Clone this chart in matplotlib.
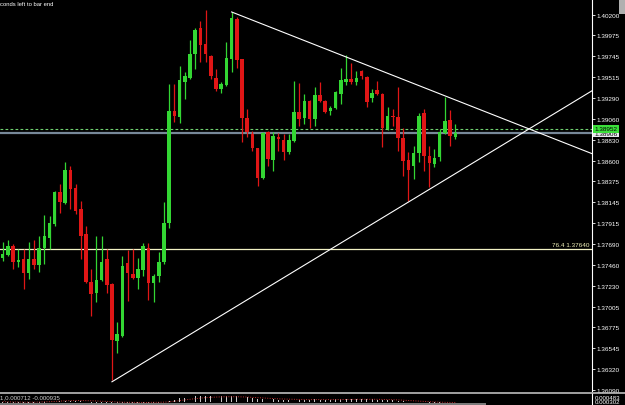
import matplotlib
matplotlib.use("Agg")
import matplotlib.pyplot as plt
import numpy as np
from matplotlib.lines import Line2D
from matplotlib.patches import Rectangle
from matplotlib.transforms import blended_transform_factory

plt.rcParams["font.family"] = ["Liberation Sans", "DejaVu Sans"]

# candle OHLC, oldest first
opens = [
    1.37536, 1.37569, 1.37668, 1.37492, 1.37525, 1.37372, 1.37525, 1.37460, 1.37646, 1.37756,
    1.37909, 1.38260, 1.38139, 1.38501, 1.38304, 1.38073, 1.37799, 1.37273, 1.37153, 1.37295,
    1.37525, 1.37251, 1.36627, 1.36682, 1.37482, 1.37361, 1.37317, 1.37405, 1.37646, 1.37262,
    1.37339, 1.37492, 1.37920, 1.39148, 1.39082, 1.39465, 1.39509, 1.39772, 1.40057, 1.39882,
    1.39750, 1.39509, 1.39389, 1.39432, 1.39717, 1.40156, 1.39717, 1.39071, 1.38895, 1.38742,
    1.38413, 1.38917, 1.38610, 1.38863, 1.38830, 1.38698, 1.38819, 1.39137, 1.39071, 1.39257,
    1.39060, 1.39323, 1.39257, 1.39148, 1.39180, 1.39334, 1.39465, 1.39498, 1.39465, 1.39586,
    1.39520, 1.39290, 1.39378, 1.39334, 1.38950, 1.39093, 1.39082, 1.38852, 1.38610, 1.38545,
    1.38687, 1.39126, 1.38654, 1.38567, 1.38643, 1.38906, 1.39049, 1.38863,
]
highs = [
    1.37712, 1.37734, 1.37690, 1.37635, 1.37635, 1.37712, 1.37734, 1.37778, 1.38008, 1.37997,
    1.38271, 1.38347, 1.38588, 1.38545, 1.38347, 1.38161, 1.37887, 1.37416, 1.37778, 1.37778,
    1.37635, 1.37262, 1.36835, 1.37558, 1.37624, 1.37635, 1.37536, 1.37701, 1.37701, 1.37361,
    1.37602, 1.38150, 1.39443, 1.39443, 1.39641, 1.39575, 1.39926, 1.40057, 1.40134, 1.40254,
    1.39761, 1.39608, 1.39465, 1.39904, 1.40233, 1.40178, 1.39717, 1.39169, 1.38928, 1.38742,
    1.38917, 1.38928, 1.38917, 1.38906, 1.38895, 1.38895, 1.39476, 1.39454, 1.39334, 1.39268,
    1.39411, 1.39465, 1.39268, 1.39202, 1.39367, 1.39619, 1.39761, 1.39674, 1.39586, 1.39597,
    1.39531, 1.39389, 1.39476, 1.39345, 1.39191, 1.39169, 1.39411, 1.38961, 1.38698, 1.38764,
    1.39126, 1.39169, 1.38764, 1.38731, 1.38950, 1.39301, 1.39158, 1.39005,
]
lows = [
    1.37504, 1.37558, 1.37416, 1.37438, 1.37197, 1.37306, 1.37416, 1.37383, 1.37471, 1.37635,
    1.37887, 1.38030, 1.38128, 1.38073, 1.38019, 1.37525, 1.37262, 1.36901, 1.37054, 1.37284,
    1.37153, 1.36199, 1.36495, 1.36671, 1.37065, 1.37306, 1.37197, 1.37339, 1.37076, 1.37054,
    1.37273, 1.37471, 1.37865, 1.39027, 1.39016, 1.39279, 1.39498, 1.39608, 1.39685, 1.39685,
    1.39498, 1.39367, 1.39345, 1.39422, 1.39575, 1.39619, 1.38808, 1.38863, 1.38709, 1.38326,
    1.38402, 1.38545, 1.38490, 1.38709, 1.38610, 1.38676, 1.38808, 1.38983, 1.39005, 1.38961,
    1.38983, 1.39246, 1.39126, 1.39104, 1.39169, 1.39224, 1.39432, 1.39443, 1.39432, 1.39498,
    1.39191, 1.39246, 1.39323, 1.38753, 1.38939, 1.38983, 1.38709, 1.38435, 1.38161, 1.38402,
    1.38589, 1.38490, 1.38315, 1.38534, 1.38600, 1.38895, 1.38764, 1.38841,
]
closes = [
    1.37580, 1.37668, 1.37492, 1.37514, 1.37372, 1.37525, 1.37460, 1.37646, 1.37778, 1.37920,
    1.38260, 1.38150, 1.38501, 1.38293, 1.38052, 1.37778, 1.37273, 1.37142, 1.37295, 1.37492,
    1.37240, 1.36638, 1.36703, 1.37449, 1.37372, 1.37317, 1.37416, 1.37668, 1.37262, 1.37339,
    1.37492, 1.37920, 1.39148, 1.39093, 1.39487, 1.39531, 1.39772, 1.40035, 1.39871, 1.39772,
    1.39531, 1.39389, 1.39443, 1.39728, 1.40167, 1.39706, 1.39071, 1.38917, 1.38742, 1.38413,
    1.38906, 1.38621, 1.38873, 1.38841, 1.38698, 1.38830, 1.39137, 1.39060, 1.39257, 1.39060,
    1.39323, 1.39257, 1.39137, 1.39180, 1.39356, 1.39487, 1.39498, 1.39465, 1.39509, 1.39531,
    1.39246, 1.39345, 1.39334, 1.38961, 1.39093, 1.39082, 1.38852, 1.38600, 1.38501, 1.38687,
    1.39093, 1.38654, 1.38578, 1.38632, 1.38917, 1.39038, 1.38874, 1.38906,
]

# MACD sub window (histogram + signal), only its top strip is visible
macd_hist = [
    -0.00020, -0.00018, -0.00017, -0.00015, -0.00016, -0.00014, -0.00013, -0.00010, -0.00006, -0.00002,
    0.00003, 0.00005, 0.00009, 0.00010, 0.00008, 0.00004, -0.00002, -0.00008, -0.00010, -0.00010,
    -0.00011, -0.00018, -0.00022, -0.00018, -0.00017, -0.00016, -0.00014, -0.00011, -0.00012, -0.00011,
    -0.00009, -0.00004, 0.00008, 0.00016, 0.00024, 0.00030, 0.00035, 0.00040, 0.00042, 0.00042,
    0.00041, 0.00039, 0.00037, 0.00038, 0.00041, 0.00039, 0.00035, 0.00031, 0.00027, 0.00023,
    0.00022, 0.00020, 0.00018, 0.00016, 0.00014, 0.00013, 0.00015, 0.00015, 0.00016, 0.00016,
    0.00017, 0.00016, 0.00016, 0.00016, 0.00017, 0.00018, 0.00019, 0.00019, 0.00019, 0.00019,
    0.00018, 0.00017, 0.00016, 0.00013, 0.00012, 0.00011, 0.00008, 0.00005, 0.00001, -0.00001,
    0.00000, -0.00003, -0.00004, -0.00005, -0.00004, -0.00002, -0.00002, -0.00001,
]
macd_signal = [
    0.00002, 0.00001, 0.00000, 0.00000, -0.00001, -0.00001, -0.00001, 0.00000, 0.00001, 0.00002,
    0.00004, 0.00006, 0.00008, 0.00009, 0.00010, 0.00010, 0.00009, 0.00008, 0.00007, 0.00005,
    0.00004, 0.00002, 0.00000, -0.00001, -0.00002, -0.00002, -0.00003, -0.00003, -0.00003, -0.00002,
    -0.00002, -0.00001, 0.00001, 0.00005, 0.00009, 0.00014, 0.00018, 0.00022, 0.00026, 0.00029,
    0.00031, 0.00033, 0.00034, 0.00035, 0.00035, 0.00035, 0.00034, 0.00033, 0.00031, 0.00029,
    0.00027, 0.00025, 0.00023, 0.00021, 0.00020, 0.00019, 0.00018, 0.00017, 0.00016, 0.00016,
    0.00016, 0.00016, 0.00016, 0.00016, 0.00016, 0.00016, 0.00017, 0.00017, 0.00018, 0.00018,
    0.00018, 0.00018, 0.00018, 0.00017, 0.00016, 0.00015, 0.00014, 0.00012, 0.00010, 0.00008,
    0.00006, 0.00004, 0.00002, 0.00000, -0.00001, -0.00002, -0.00003, -0.00003,
]

# price scale labels on the right
ytick_vals = [1.40200, 1.39975, 1.39745, 1.39515, 1.39290, 1.39060, 1.38830, 1.38600,
              1.38375, 1.38145, 1.37915, 1.37690, 1.37460, 1.37230, 1.37005, 1.36775,
              1.36545, 1.36320, 1.36090]

# trend lines (bar index, price) -> drawn as rays to the right edge
upper_line = [(44, 1.40233), (85, 1.39314)]
lower_line = [(21, 1.36180), (78, 1.38150)]
fib_level = 1.37640
fib_label = "76.4 1.37640"
ask_price = 1.38952
bid_price = 1.38906
macd_text = "1,0.000712 -0.000935"
macd_scale = ["0.000483", "0.000302"]

GREEN = "#33d633"
RED = "#e01616"
W, H = 625, 406


def fx(px):
    return px / W


def fy(py):
    return 1 - py / H


fig = plt.figure(figsize=(W / 100, H / 100), dpi=100, facecolor="black")
ax = fig.add_axes([0, fy(392), fx(592), 392 / H])
ax.set_facecolor("black")

xlo, xhi = -0.52, 113.28
ax.set_xlim(xlo, xhi)
ax.set_ylim(1.36079, 1.40375)

idx = np.arange(len(opens))
o = np.array(opens)
h = np.array(highs)
l = np.array(lows)
c = np.array(closes)
colors = np.where(c >= o, GREEN, RED)
ax.vlines(idx, l, h, colors=colors, linewidth=0.9, zorder=3)
body_lo = np.minimum(o, c)
body_h = np.maximum(np.abs(c - o), 0.00009)
ax.bar(idx, body_h, bottom=body_lo, width=0.68, color=colors, linewidth=0, zorder=4)


def ray(points):
    (x0, y0), (x1, y1) = points
    k = (y1 - y0) / (x1 - x0)
    return [x0, xhi], [y0, y0 + k * (xhi - x0)]


for pts in (upper_line, lower_line):
    xs, ys = ray(pts)
    ax.plot(xs, ys, color="white", linewidth=0.8, zorder=5)

ax.axhline(fib_level, color="#f2f2c4", linewidth=0.9, zorder=2)
ax.text(xhi - 0.4, fib_level + 0.00012, fib_label, color="#f0f0b8", fontsize=4.6,
        ha="right", va="bottom", zorder=6)
ax.axhline(ask_price, color="#6fd06f", linewidth=0.8, linestyle=(0, (2.5, 2)), zorder=2)
ax.axhline(bid_price, color="#778899", linewidth=1.6, zorder=1)

ax.set_xticks([])
ax.yaxis.tick_right()
ax.set_yticks(ytick_vals)
ax.set_yticklabels([f"{v:.5f}" for v in ytick_vals])
ax.tick_params(axis="y", colors="white", labelsize=4.6, length=2, width=0.6, pad=1)
for side in ("left", "top", "bottom"):
    ax.spines[side].set_visible(False)
ax.spines["right"].set_color("white")
ax.spines["right"].set_linewidth(0.8)

# price boxes on the scale
tr = blended_transform_factory(ax.transAxes, ax.transData)
ax.text(1.004, ask_price, f"{ask_price:.5f}", transform=tr, fontsize=4.6, color="black",
        va="center", ha="left", zorder=10, clip_on=False,
        bbox=dict(boxstyle="square,pad=0.25", facecolor="#3be03b", edgecolor="none"))
ax.text(1.004, bid_price - 0.00006, f"{bid_price:.5f}", transform=tr, fontsize=4.6,
        color="black", va="center", ha="left", zorder=9, clip_on=False,
        bbox=dict(boxstyle="square,pad=0.2", facecolor="#e8e8ee", edgecolor="none"))

# MACD sub window, mostly below the visible area
sub = fig.add_axes([0, fy(454), fx(592), 60 / H])
sub.set_facecolor("black")
sub.set_xlim(xlo, xhi)
sub.set_ylim(-0.0034, 0.0006)
sub.bar(idx, macd_hist, width=0.18, color="#c8c8c8", linewidth=0)
sub.plot(idx, macd_signal, color="#c03030", linewidth=0.7, linestyle=(0, (1, 1.5)))
sub.set_xticks([])
sub.set_yticks([])
for side in ("left", "top", "bottom"):
    sub.spines[side].set_visible(False)
sub.spines["right"].set_color("white")
sub.spines["right"].set_linewidth(0.8)

fig.text(fx(0), fy(395.5), macd_text, color="#d0d0d0", fontsize=4.4, ha="left", va="top",
         bbox=dict(boxstyle="square,pad=0.1", facecolor="black", edgecolor="none"))
fig.text(fx(595), fy(396), macd_scale[0], color="white", fontsize=4.4, ha="left", va="top")
fig.text(fx(595), fy(400.5), macd_scale[1], color="white", fontsize=4.4, ha="left", va="top")

# window separator, bottom strip and chart-shift marker
fig.add_artist(Line2D([0, 1], [fy(393.6), fy(393.6)], transform=fig.transFigure,
                      color="#bdbdbd", linewidth=1.2))
fig.add_artist(Rectangle((0, 0), fx(486), 2.5 / H, transform=fig.transFigure,
                         facecolor="#7a7a7a", edgecolor="none"))
fig.add_artist(Rectangle((fx(619), fy(15)), fx(6), 15 / H, transform=fig.transFigure,
                         facecolor="#b0b0b0", edgecolor="none"))

fig.text(fx(0.5), fy(1.5), "conds left to bar end", color="white", fontsize=4.2,
         ha="left", va="top")

fig.savefig("out.png", dpi=100, facecolor="black")
